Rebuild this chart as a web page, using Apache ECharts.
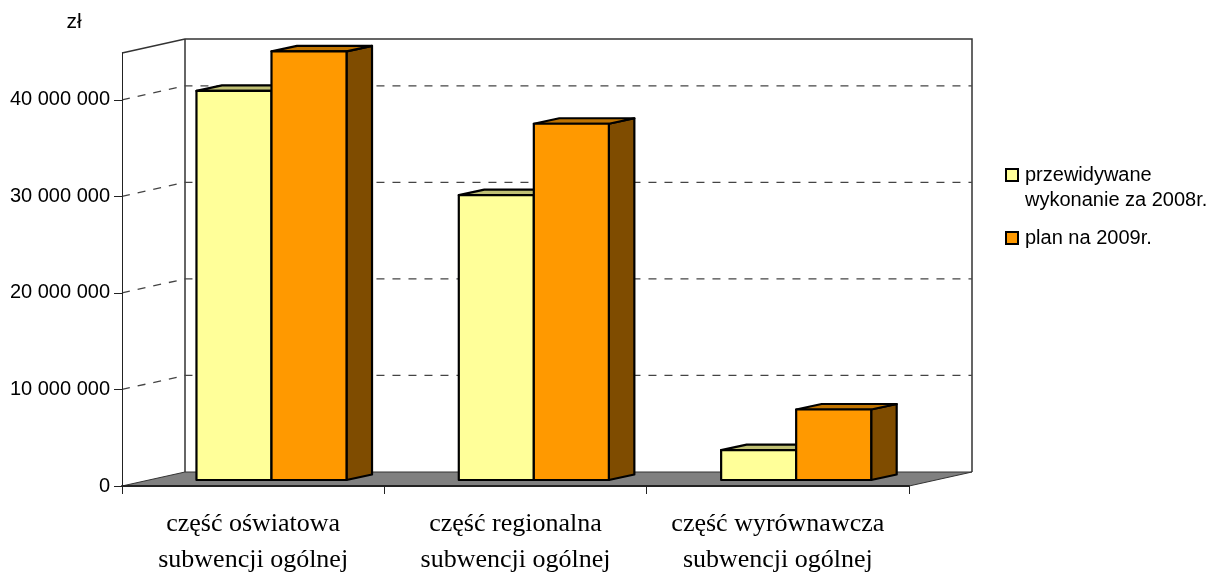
<!DOCTYPE html>
<html><head><meta charset="utf-8">
<style>html,body{margin:0;padding:0;background:#fff}#c{width:1215px;height:572px}</style>
<script src="https://cdn.jsdelivr.net/npm/echarts@6/dist/echarts.min.js"></script>
</head><body><div id="c"></div>
<script>
const categories = ['część oświatowa\nsubwencji ogólnej','część regionalna\nsubwencji ogólnej','część wyrównawcza\nsubwencji ogólnej'];
const seriesNames = ['przewidywane\nwykonanie za 2008r.','plan na 2009r.'];
const forecast2008 = [40300000, 29500000, 3100000];
const plan2009 = [44400000, 36900000, 7300000];
const yTicks = [0, 10000000, 20000000, 30000000, 40000000];
const yMax = 44850000;

const WALL = {dx:63, dy:-14};
const BAR = {frontDx:22, frontDy:-6, depthDx:25.5, depthDy:-5.5, startRatio:0.2, widthRatio:0.286};
const palette = [
  {front:'#FFFF99', top:'#BFBF73', side:'#7F7F4C'},
  {front:'#FF9900', top:'#BF7300', side:'#7F4C00'}
];

function wallsRender(params, api){
  const c = params.coordSys, x0=c.x, x1=c.x+c.width, yT=c.y, yB=c.y+c.height, d=WALL;
  const ln = {stroke:'#333', lineWidth:1.5, fill:null};
  return {type:'group', children:[
    {type:'polygon', shape:{points:[[x0,yB],[x0+d.dx,yB+d.dy],[x1+d.dx,yB+d.dy],[x1,yB]]}, style:{fill:'#808080', stroke:'#333', lineWidth:1}},
    {type:'polyline', shape:{points:[[x0,yT],[x0+d.dx,yT+d.dy],[x1+d.dx,yT+d.dy],[x1+d.dx,yB+d.dy]]}, style:ln},
    {type:'line', shape:{x1:x0+d.dx,y1:yT+d.dy,x2:x0+d.dx,y2:yB+d.dy}, style:ln}
  ]};
}
function gridRender(params, api){
  const c = params.coordSys, x0=c.x, x1=c.x+c.width, y=api.coord([0, api.value(0)])[1], d=WALL;
  return {type:'polyline', shape:{points:[[x0,y],[x0+d.dx,y+d.dy],[x1+d.dx,y+d.dy]]},
    style:{stroke:'#444', lineWidth:1.3, lineDash:[8,8], fill:null}};
}
function barRender(k){
  return function(params, api){
    const band = api.size([1,0])[0];
    const base = api.coord([api.value(0), 0]), top = api.coord([api.value(0), api.value(1)]);
    const L = base[0]-band/2+band*(BAR.startRatio+k*BAR.widthRatio)+BAR.frontDx;
    const R = L+band*BAR.widthRatio;
    const yb = base[1]+BAR.frontDy, yt = top[1]+BAR.frontDy;
    const dx=BAR.depthDx, dy=BAR.depthDy, p=palette[k];
    const st = f=>({fill:f, stroke:'#000', lineWidth:2.2, lineJoin:'round'});
    return {type:'group', children:[
      {type:'polygon', shape:{points:[[R,yb],[R+dx,yb+dy],[R+dx,yt+dy],[R,yt]]}, style:st(p.side)},
      {type:'polygon', shape:{points:[[L,yt],[L+dx,yt+dy],[R+dx,yt+dy],[R,yt]]}, style:st(p.top)},
      {type:'rect', shape:{x:L,y:yt,width:R-L,height:yb-yt}, style:st(p.front)}
    ]};
  };
}
const chart = echarts.init(document.getElementById('c'), null, {renderer:'canvas'});
chart.setOption({
  animation:false,
  backgroundColor:'#fff',
  grid:{left:122, right:306, top:53, bottom:86, containLabel:false, outerBoundsMode:'none'},
  legend:{
    orient:'vertical', left:1000, top:132.5, itemWidth:12, itemHeight:12, itemGap:13,
    icon:'rect', data:seriesNames,
    formatter:n=>n.indexOf('\n')>=0 ? ' \n'+n : n,
    textStyle:{fontFamily:'Liberation Sans', fontSize:20, color:'#000', lineHeight:25, padding:[0,0,0,2]}
  },
  xAxis:{
    type:'category', z:5,
    data:categories,
    axisLine:{lineStyle:{color:'#222', width:2}},
    axisTick:{show:true, alignWithLabel:false, length:8, lineStyle:{color:'#222', width:1}},
    axisLabel:{fontFamily:'Liberation Serif', fontSize:26, color:'#000', lineHeight:36, margin:20, interval:0}
  },
  yAxis:{
    type:'value', min:0, max:yMax, interval:10000000, z:5,
    name:'zł', nameLocation:'end', nameGap:20,
    nameTextStyle:{fontFamily:'Liberation Sans', fontSize:21, color:'#000', padding:[0,96,0,0]},
    splitLine:{show:false},
    axisLine:{show:true, lineStyle:{color:'#222', width:1}},
    axisTick:{show:true, length:8, customValues:yTicks, lineStyle:{color:'#222', width:1}},
    axisLabel:{fontFamily:'Liberation Sans', fontSize:20, color:'#000', margin:12, customValues:yTicks,
      formatter:v=>String(v).replace(/\B(?=(\d{3})+$)/g,' ')}
  },
  series:[
    {type:'custom', name:'walls', z:1, silent:true, data:[[0,0]], renderItem:wallsRender},
    {type:'custom', name:'grid', z:2, silent:true, data:yTicks.slice(1).map(v=>[v]), encode:{y:0}, renderItem:gridRender},
    {type:'custom', name:seriesNames[0], z:7, data:forecast2008.map((v,i)=>[i,v]), encode:{x:0,y:1}, renderItem:barRender(0),
      itemStyle:{color:palette[0].front, borderColor:'#000', borderWidth:1.5}},
    {type:'custom', name:seriesNames[1], z:8, data:plan2009.map((v,i)=>[i,v]), encode:{x:0,y:1}, renderItem:barRender(1),
      itemStyle:{color:palette[1].front, borderColor:'#000', borderWidth:1.5}}
  ]
});
</script></body></html>
